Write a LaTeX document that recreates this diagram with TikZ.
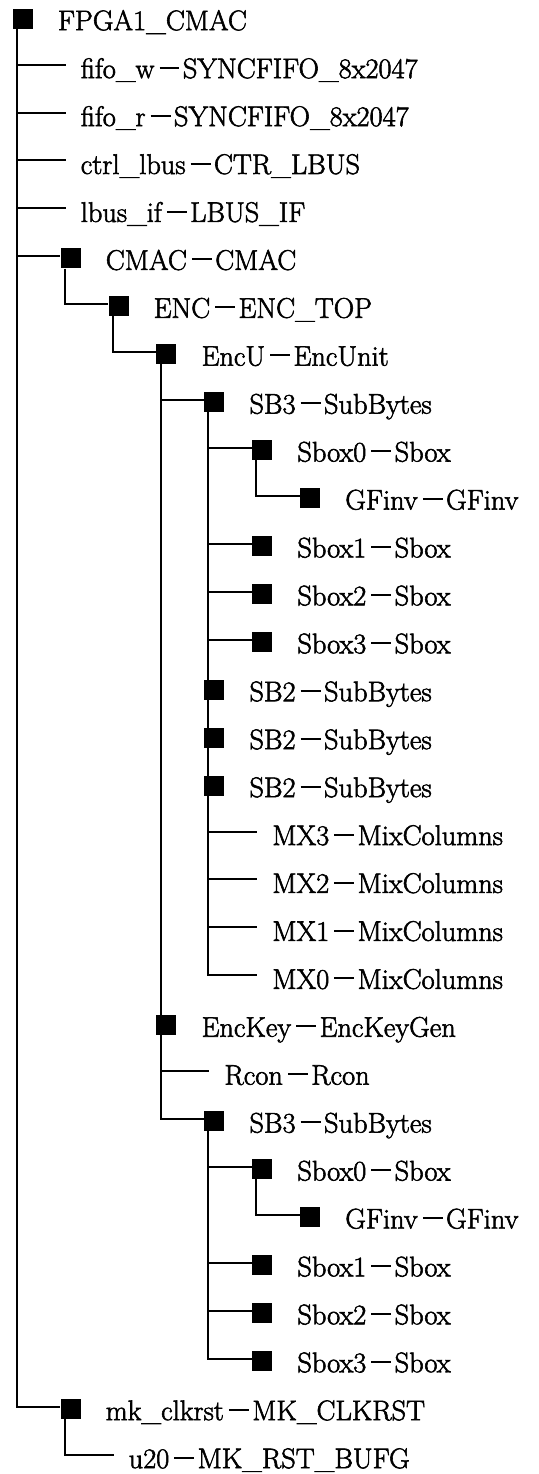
\documentclass[tikz,border=0pt]{standalone}
\usepackage{graphicx}
\usepackage{fontspec}
% large-size Latin Modern, slightly emboldened for heavier strokes
\newfontfamily\treefont{lmroman17-regular}[Extension=.otf,FakeBold=2]
\begin{document}
% full-width dash between instance name and module name
\newcommand\fw{\hspace{0.18em}\rule[0.33em]{0.7em}{0.07em}\hspace{0.12em}}
% square (non-leaf) entry: name, row, level, text
\newcommand\hsq[4]{%
  \node[sq] (#1) at ({12.7+47.9*#3+10},{18.7+47.93*#2}) {};
  \coordinate (#1in) at ([yshift=2pt]#1.west);
  \node[lbl] (#1t) at ({12.7+47.9*#3+45},{18.7+47.93*#2+11.5}) {#4};}
% leaf entry: name, row, level, text
\newcommand\hleaf[4]{%
  \coordinate (#1in) at ({12.7+47.9*#3+5},{18.7+47.93*#2-2});
  \node[lbl] (#1t) at ({12.7+47.9*#3+20},{18.7+47.93*#2+11.5}) {#4};}
% connector from a parent's square down and across to a child
\newcommand\link[2]{\draw[conn] ([xshift=4.3pt]#1.south west) |- (#2in);}
\begin{tikzpicture}[x=1pt,y=-1pt,
  sq/.style={fill=black,draw=none,minimum size=20pt,inner sep=0pt},
  lbl/.style={anchor=base west,inner sep=0pt,font=\treefont\fontsize{28.4}{30}\selectfont},
  conn/.style={line width=2pt,line join=miter}]
\useasboundingbox (0,0) rectangle (538,1474);

\hsq{n0}{0}{0}{FPGA1\_CMAC}
\hleaf{n1}{1}{1}{fifo\_w\fw SYNCFIFO\_8x2047}
\hleaf{n2}{2}{1}{fifo\_r\fw SYNCFIFO\_8x2047}
\hleaf{n3}{3}{1}{ctrl\_lbus\fw CTR\_LBUS}
\hleaf{n4}{4}{1}{lbus\_if\fw LBUS\_IF}
\hsq{n5}{5}{1}{CMAC\fw CMAC}
\hsq{n6}{6}{2}{ENC\fw ENC\_TOP}
\hsq{n7}{7}{3}{EncU\fw EncUnit}
\hsq{n8}{8}{4}{SB3\fw SubBytes}
\hsq{n9}{9}{5}{Sbox0\fw Sbox}
\hsq{n10}{10}{6}{GFinv\fw GFinv}
\hsq{n11}{11}{5}{Sbox1\fw Sbox}
\hsq{n12}{12}{5}{Sbox2\fw Sbox}
\hsq{n13}{13}{5}{Sbox3\fw Sbox}
\hsq{n14}{14}{4}{SB2\fw SubBytes}
\hsq{n15}{15}{4}{SB2\fw SubBytes}
\hsq{n16}{16}{4}{SB2\fw SubBytes}
\hleaf{n17}{17}{5}{MX3\fw MixColumns}
\hleaf{n18}{18}{5}{MX2\fw MixColumns}
\hleaf{n19}{19}{5}{MX1\fw MixColumns}
\hleaf{n20}{20}{5}{MX0\fw MixColumns}
\hsq{n21}{21}{3}{EncKey\fw EncKeyGen}
\hleaf{n22}{22}{4}{Rcon\fw Rcon}
\hsq{n23}{23}{4}{SB3\fw SubBytes}
\hsq{n24}{24}{5}{Sbox0\fw Sbox}
\hsq{n25}{25}{6}{GFinv\fw GFinv}
\hsq{n26}{26}{5}{Sbox1\fw Sbox}
\hsq{n27}{27}{5}{Sbox2\fw Sbox}
\hsq{n28}{28}{5}{Sbox3\fw Sbox}
\hsq{n29}{29}{1}{mk\_clkrst\fw MK\_CLKRST}
\hleaf{n30}{30}{2}{u20\fw MK\_RST\_BUFG}

% top level
\link{n0}{n1}\link{n0}{n2}\link{n0}{n3}\link{n0}{n4}\link{n0}{n5}\link{n0}{n29}
\link{n5}{n6}
\link{n6}{n7}
% EncU branch (its line runs through EncKey)
\link{n7}{n8}\link{n7}{n22}\link{n7}{n23}
% first SubBytes branch (its line runs through the SB2 squares)
\link{n8}{n9}\link{n8}{n11}\link{n8}{n12}\link{n8}{n13}
\link{n8}{n17}\link{n8}{n18}\link{n8}{n19}\link{n8}{n20}
\link{n9}{n10}
% second SubBytes branch
\link{n23}{n24}\link{n23}{n26}\link{n23}{n27}\link{n23}{n28}
\link{n24}{n25}
% clock/reset
\link{n29}{n30}
\end{tikzpicture}
\end{document}
